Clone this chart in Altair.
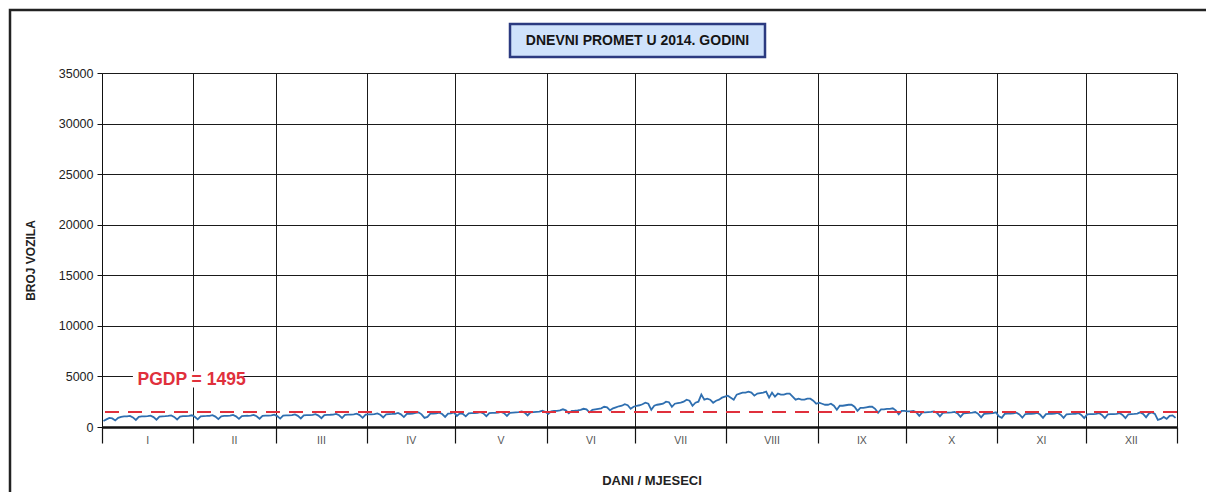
import altair as alt
import numpy as np
import pandas as pd

# ---------------- data ----------------
months = ["I", "II", "III", "IV", "V", "VI", "VII", "VIII", "IX", "X", "XI", "XII"]
days_in_month = [31, 28, 31, 30, 31, 30, 31, 31, 30, 31, 30, 31]
pgdp = 1495
y_ticks = [0, 5000, 10000, 15000, 20000, 25000, 30000, 35000]

jan = [600, 750, 900, 850, 650, 900, 1000, 1050, 1050, 1100, 950, 700, 1000, 1050, 1050, 1080,
       1120, 980, 720, 1020, 1060, 1070, 1090, 1150, 1000, 740, 1030, 1070, 1080, 1100, 1160]
feb = [1010, 760, 1050, 1080, 1090, 1110, 1170, 1030, 780, 1060, 1090, 1100, 1120, 1190, 1050,
       800, 1080, 1100, 1110, 1130, 1200, 1060, 820, 1100, 1120, 1130, 1150, 1220]
mar = [1080, 830, 1120, 1140, 1150, 1170, 1240, 1100, 850, 1150, 1170, 1180, 1200, 1270, 1130,
       870, 1180, 1200, 1210, 1230, 1300, 1160, 890, 1200, 1220, 1230, 1250, 1320, 1180, 910, 1220]
apr = [1240, 1250, 1270, 1350, 1210, 950, 1260, 1280, 1290, 1310, 1390, 1250, 980, 1290, 1310,
       1320, 1400, 1450, 1250, 900, 1000, 1320, 1330, 1350, 1420, 1280, 1000, 1330, 1350, 1450]
may = [1100, 1350, 1300, 1050, 1350, 1370, 1380, 1400, 1470, 1340, 1070, 1380, 1400, 1410, 1430,
       1500, 1370, 1100, 1400, 1420, 1440, 1460, 1540, 1420, 1150, 1450, 1470, 1490, 1510, 1600, 1500]
jun = [1300, 1550, 1580, 1600, 1650, 1750, 1650, 1350, 1600, 1620, 1650, 1700, 1800, 1750, 1450,
       1700, 1750, 1800, 1850, 2000, 1950, 1650, 1850, 1950, 2050, 2100, 2250, 2150, 1800, 2000]
jul = [2100, 2150, 2250, 2400, 2300, 1700, 2100, 2200, 2250, 2300, 2500, 2450, 2000, 2300, 2350,
       2400, 2500, 2700, 2600, 2100, 2400, 2500, 3200, 2700, 2800, 2700, 2400, 2600, 2700, 2900, 3000]
aug = [3100, 2900, 2700, 3200, 3300, 3400, 3400, 3500, 3400, 3100, 3300, 3350, 3400, 3500, 2900,
       3400, 3000, 3300, 3200, 3200, 3300, 3300, 3000, 2700, 2800, 2700, 2700, 2800, 2800, 2600, 2300]
sep = [2400, 2300, 2200, 2200, 2300, 2100, 1700, 2100, 2100, 2150, 2200, 2200, 2000, 1600, 1900,
       1900, 1950, 2000, 2000, 1800, 1400, 1750, 1750, 1800, 1800, 1850, 1650, 1250, 1600, 1600]
oct_ = [1550, 1550, 1600, 1450, 1100, 1450, 1450, 1480, 1500, 1550, 1400, 1050, 1400, 1420, 1430,
        1450, 1500, 1350, 1000, 1350, 1380, 1400, 1420, 1480, 1300, 950, 1300, 1330, 1350, 1380, 1450]
nov = [1050, 900, 1300, 1320, 1330, 1350, 1420, 1250, 920, 1280, 1300, 1310, 1330, 1400, 1230,
       900, 1270, 1290, 1300, 1320, 1390, 1220, 900, 1260, 1280, 1290, 1310, 1380, 1200, 880]
dec = [1250, 1270, 1280, 1300, 1380, 1200, 870, 1250, 1270, 1280, 1300, 1380, 1200, 880, 1260,
       1280, 1300, 1330, 1450, 1300, 950, 1350, 1450, 1300, 700, 800, 1000, 800, 1100, 1150, 900]

traffic = jan + feb + mar + apr + may + jun + jul + aug + sep + oct_ + nov + dec

# ---------------- tables ----------------
df = pd.DataFrame({"day": np.arange(len(traffic)) + 0.5, "vozila": traffic})
bounds = np.concatenate([[0], np.cumsum(days_in_month)])
mids = (bounds[:-1] + bounds[1:]) / 2
month_df = pd.DataFrame({"mid": mids, "mjesec": months})
total_days = int(bounds[-1])

FONT = "Liberation Sans, Arial"
W, H = 1075, 354

x_scale = alt.Scale(domain=[0, total_days], nice=False, zero=False)
y_scale = alt.Scale(domain=[0, 35000], nice=False)

x_axis = alt.Axis(values=[int(b) for b in bounds], labels=False, grid=True,
                  tickSize=16, tickWidth=1.2, domainWidth=2.5,
                  title="DANI / MJESECI", titleFont=FONT, titleFontSize=13,
                  titleFontWeight="bold", titleColor="#222",
                  titleX=W / 2 + 12, titleY=57, titleBaseline="alphabetic")
y_axis = alt.Axis(values=y_ticks, format="d", grid=True, tickSize=5, labelPadding=4,
                  labelFont=FONT, labelFontSize=12.5, labelColor="#222",
                  title="BROJ VOZILA", titleFont=FONT, titleFontSize=12,
                  titleFontWeight="bold", titleColor="#222",
                  titleX=-72, titleY=187, titleAngle=270,
                  titleAlign="center", titleBaseline="middle")

line = alt.Chart(df).mark_line(color="#2f6fb0", strokeWidth=1.8).encode(
    x=alt.X("day:Q", scale=x_scale, axis=x_axis),
    y=alt.Y("vozila:Q", scale=y_scale, axis=y_axis),
)

pgdp_rule = alt.Chart(alt.Data(values=[{"v": pgdp}])).mark_rule(
    color="#e0303c", strokeDash=[14, 9], strokeWidth=2
).encode(y=alt.Y("v:Q", scale=y_scale, axis=y_axis))

label_bg = alt.Chart(alt.Data(values=[{"x1": 10.5, "x2": 47.9, "y1": 3900, "y2": 5500}])).mark_rect(
    fill="white"
).encode(
    x=alt.X("x1:Q", scale=x_scale, axis=x_axis), x2="x2:Q",
    y=alt.Y("y1:Q", scale=y_scale, axis=y_axis), y2="y2:Q",
)

label_txt = alt.Chart(alt.Data(values=[{"x": 30.4, "y": 4650, "t": f"PGDP = {pgdp}"}])).mark_text(
    font=FONT, fontSize=17.5, fontWeight="bold", color="#e0303c", baseline="middle", align="center"
).encode(
    x=alt.X("x:Q", scale=x_scale, axis=x_axis),
    y=alt.Y("y:Q", scale=y_scale, axis=y_axis),
    text="t:N",
)

month_txt = alt.Chart(month_df).mark_text(
    font=FONT, fontSize=10.5, color="#555", baseline="middle", align="center"
).encode(
    x=alt.X("mid:Q", scale=x_scale, axis=x_axis),
    y=alt.value(H + 14),
    text="mjesec:N",
)

one = alt.Data(values=[{"k": 1}])

border = alt.Chart(one).mark_rect(fillOpacity=0, stroke="#222", strokeWidth=2.5).encode(
    x=alt.value(-92), x2=alt.value(1140), y=alt.value(-63), y2=alt.value(520)
)

title_box = alt.Chart(one).mark_rect(fill="#cfe2fb", stroke="#2b3a80", strokeWidth=2.5).encode(
    x=alt.value(408), x2=alt.value(663), y=alt.value(-49), y2=alt.value(-16)
)

title_txt = alt.Chart(alt.Data(values=[{"t": "DNEVNI PROMET U 2014. GODINI"}])).mark_text(
    font=FONT, fontSize=14, fontWeight="bold", color="#151515", align="center", baseline="middle"
).encode(x=alt.value(535.5), y=alt.value(-32), text="t:N")

chart = alt.layer(
    border, line, pgdp_rule, label_bg, label_txt, month_txt, title_box, title_txt
).properties(
    width=W, height=H,
    autosize=alt.AutoSizeParams(type="none"),
    padding={"left": 94, "top": 65, "right": 29, "bottom": 65},
    background="white",
).configure_view(
    strokeWidth=0
).configure_axis(
    gridColor="#1a1a1a", gridOpacity=1, gridWidth=1,
    domainColor="#111", tickColor="#111",
)

chart.save("out.html", embed_options={"renderer": "svg", "actions": False})
